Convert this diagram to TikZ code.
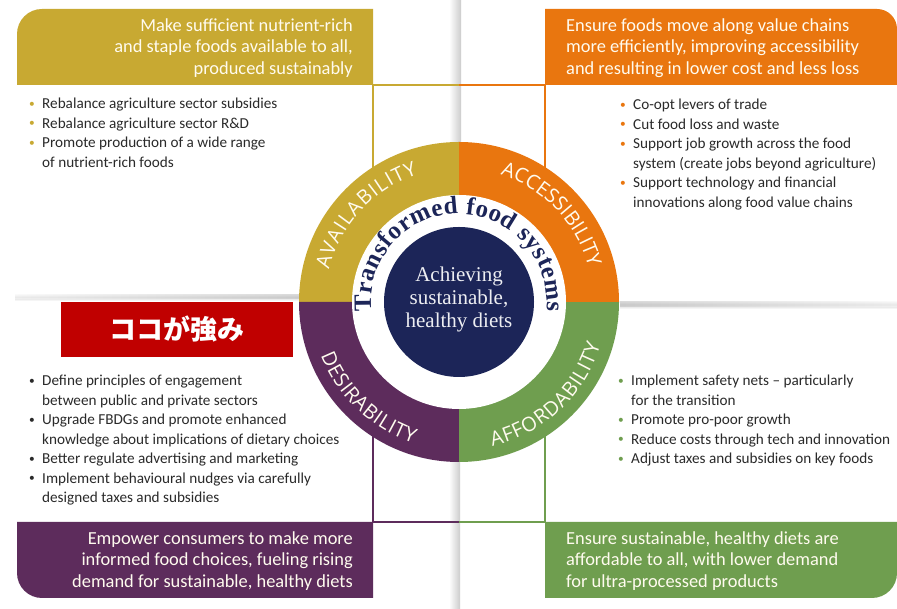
\documentclass[tikz,border=0pt]{standalone}
\usepackage{fontspec}
\usepackage{graphicx}
\setmainfont{Carlito}
\newfontfamily\serifface{Liberation Serif}
\newfontfamily\ringface{Open Sans}
\newfontfamily\cjkface{Noto Sans CJK JP}
\usetikzlibrary{decorations.text,calc}

\definecolor{avail}{HTML}{C8A932}
\definecolor{access}{HTML}{E9760F}
\definecolor{desir}{HTML}{5D2C5C}
\definecolor{afford}{HTML}{6F9E4F}
\definecolor{core}{HTML}{1C2558}
\definecolor{alertred}{HTML}{C00000}
\definecolor{ink}{HTML}{2A2A2A}
\definecolor{pale}{HTML}{FFFBEF}

% small coloured bullet used in the action lists
\newcommand\dotin[1]{\textcolor{#1}{\raisebox{1.4pt}{\scalebox{0.75}{•}}}}

\tikzset{
  hdr/.style={text=pale, inner sep=0pt, font=\fontsize{18.4}{21.5}\selectfont},
  blist/.style={text=ink, inner sep=0pt, anchor=north west,
    font=\fontsize{15.2}{19.5}\selectfont},
  frame/.style={line width=1.6pt},
  ringlabel/.style={decorate, decoration={text along path, text align=fit to path,
    text color=pale, text={|\ringface\fontsize{20}{20}\selectfont|#1}}},
}

\begin{document}
\begin{tikzpicture}[x=1pt,y=1pt]
\useasboundingbox (0,0) rectangle (897,609);
\fill[white] (0,0) rectangle (897,609);

% soft fold shadows across the page
\shade[top color=white, bottom color=white, middle color=black!16] (15,308) rectangle (300,316);
\shade[left color=white, right color=white!75!black, opacity=0.5] (15,310) rectangle (300,314);
\shade[top color=white, bottom color=white, middle color=black!18] (620,300) rectangle (897,309);
\shade[left color=white!75!black, right color=white, opacity=0.5] (620,302) rectangle (897,307);
\shade[left color=white, right color=black!20] (449,609) rectangle (461,440);
\shade[left color=white, right color=black!20] (449,146) rectangle (460,0);

% reference points of the frame
\coordinate (C) at (459,307);
\coordinate (tlc) at (373,524);
\coordinate (trc) at (545,524);
\coordinate (blc) at (373,87);
\coordinate (brc) at (545,87);
\coordinate (tm) at (459,524);
\coordinate (bm) at (459,87);

% frame lines from the header boxes to the ring
\draw[frame, avail] (tlc) -- (tm);
\draw[frame, access] (tm) -- (trc);
\draw[frame, desir] (blc) -- (bm);
\draw[frame, afford] (bm) -- (brc);
\draw[frame, avail] (tlc) -- ($(tlc)+(0,-110)$);
\draw[frame, access] (trc) -- ($(trc)+(0,-110)$);
\draw[frame, desir] (blc) -- ($(blc)+(0,110)$);
\draw[frame, afford] (brc) -- ($(brc)+(0,110)$);

% header boxes
\fill[avail] (373,524) -- (17,524) -- (17,575) arc[start angle=180,end angle=90,radius=25] -- (373,600) -- cycle;
\fill[access] (545,524) -- (545,600) -- (877,600) arc[start angle=90,end angle=0,radius=20] -- (897,524) -- cycle;
\fill[desir] (373,87) -- (17,87) -- (17,36) arc[start angle=180,end angle=270,radius=25] -- (373,11) -- cycle;
\fill[afford] (545,87) -- (545,11) -- (872,11) arc[start angle=270,end angle=360,radius=25] -- (897,87) -- cycle;

\node[hdr, anchor=east, align=right] (availhead) at (353,561) {Make sufficient nutrient-rich\\and staple foods available to all,\\produced sustainably};
\node[hdr, anchor=west, align=left] (accesshead) at (566,561) {Ensure foods move along value chains\\more efficiently, improving accessibility\\and resulting in lower cost and less loss};
\node[hdr, anchor=east, align=right] (desirhead) at (353,48) {Empower consumers to make more\\informed food choices, fueling rising\\demand for sustainable, healthy diets};
\node[hdr, anchor=west, align=left] (affordhead) at (566,48) {Ensure sustainable, healthy diets are\\affordable to all, with lower demand\\for ultra-processed products};

% action lists
\node[blist] (availlist) at (29,514) {\begin{tabular}{@{}p{13pt}@{}l@{}}
\dotin{avail} & Rebalance agriculture sector subsidies\\
\dotin{avail} & Rebalance agriculture sector R\&D\\
\dotin{avail} & Promote production of a wide range\\
 & of nutrient-rich foods
\end{tabular}};
\node[blist] (accesslist) at (620,513) {\begin{tabular}{@{}p{13pt}@{}l@{}}
\dotin{access} & Co-opt levers of trade\\
\dotin{access} & Cut food loss and waste\\
\dotin{access} & Support job growth across the food\\
 & system (create jobs beyond agriculture)\\
\dotin{access} & Support technology and financial\\
 & innovations along food value chains
\end{tabular}};
\node[blist] (desirlist) at (29,237) {\begin{tabular}{@{}p{13pt}@{}l@{}}
\dotin{ink} & Define principles of engagement\\
 & between public and private sectors\\
\dotin{ink} & Upgrade FBDGs and promote enhanced\\
 & knowledge about implications of dietary choices\\
\dotin{ink} & Better regulate advertising and marketing\\
\dotin{ink} & Implement behavioural nudges via carefully\\
 & designed taxes and subsidies
\end{tabular}};
\node[blist] (affordlist) at (618,237) {\begin{tabular}{@{}p{13pt}@{}l@{}}
\dotin{afford} & Implement safety nets -- particularly\\
 & for the transition\\
\dotin{afford} & Promote pro-poor growth\\
\dotin{afford} & Reduce costs through tech and innovation\\
\dotin{afford} & Adjust taxes and subsidies on key foods
\end{tabular}};

% highlight tag
\node[fill=alertred, minimum width=232pt, minimum height=55pt, inner sep=0pt,
  text=white, font=\cjkface\bfseries\fontsize{27}{27}\selectfont] (tag) at (177,279.5) {ココが強み};

% the four-part ring
\fill[avail] (C) -- ++(90:160) arc[start angle=90,end angle=180,radius=160] -- cycle;
\fill[desir] (C) -- ++(180:160) arc[start angle=180,end angle=270,radius=160] -- cycle;
\fill[afford] (C) -- ++(270:160) arc[start angle=270,end angle=360,radius=160] -- cycle;
\fill[access] (C) -- ++(0:160) arc[start angle=0,end angle=90,radius=160] -- cycle;
\fill[white] (C) circle[radius=107];
\node[circle, fill=core, minimum size=150pt, inner sep=0pt] (hub) at (C) {};
\node[text=white!92!core, align=center, font=\serifface\fontsize{21}{23}\selectfont] (hubtext) at ($(C)+(0,3)$) {Achieving\\sustainable,\\healthy diets};

% ring labels
\path[ringlabel=AVAILABILITY] (C) ++(166:134) arc[start angle=166,end angle=108,radius=134];
\path[ringlabel=ACCESSIBILITY] (C) ++(72:134) arc[start angle=72,end angle=16,radius=134];
\path[ringlabel=DESIRABILITY] (C) ++(201:148) arc[start angle=201,end angle=252,radius=148];
\path[ringlabel=AFFORDABILITY] (C) ++(283:148) arc[start angle=283,end angle=343,radius=148];

% title around the hub
\path[decorate, decoration={text along path, text align=fit to path, text color=core,
  text={|\serifface\bfseries\fontsize{25}{25}\selectfont|Transformed food systems}}]
  (C) ++(186:88) arc[start angle=186,end angle=-6,radius=88];
\end{tikzpicture}
\end{document}
